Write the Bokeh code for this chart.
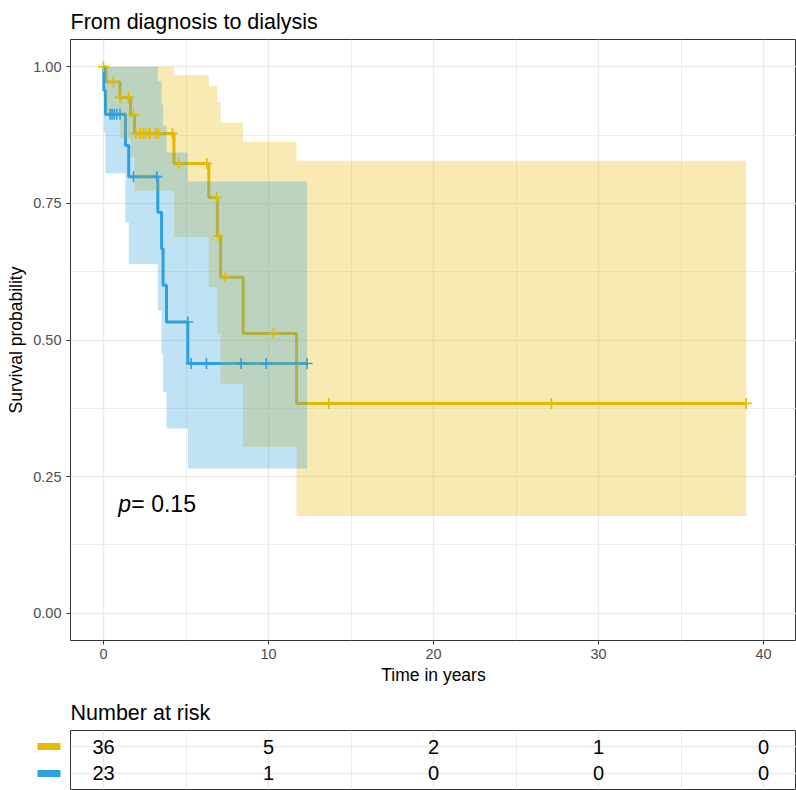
from bokeh.plotting import figure
from bokeh.layouts import column, row
from bokeh.models import FixedTicker, Range1d, PrintfTickFormatter
from bokeh.core.properties import value
from bokeh.embed import file_html
from bokeh.resources import INLINE

FONT = "Liberation Sans"
YEL = "#E7B800"
BLU = "#2E9FDF"

# ---- Data ----
# Group 1 (yellow), n = 36
yel_t = [0, 0.15, 1.0, 1.64, 1.88, 4.27, 6.38, 6.9, 7.1, 8.46, 11.7, 38.95]
yel_s = [1.0, 0.972, 0.944, 0.912, 0.878, 0.823, 0.761, 0.69, 0.615, 0.512, 0.384, 0.384]
yel_lo = [1.0, 0.915, 0.87, 0.835, 0.773, 0.688, 0.597, 0.511, 0.42, 0.304, 0.178, 0.178]
yel_hi = [1.0, 1.0, 1.0, 1.0, 1.0, 0.985, 0.965, 0.935, 0.898, 0.863, 0.828, 0.828]
yel_cens_t = [0, 0.6, 1.01, 1.52, 1.82, 1.96, 2.22, 2.38, 2.56, 2.77, 2.83, 3.17, 3.33,
              4.18, 4.55, 6.26, 6.87, 6.97, 7.37, 10.3, 13.65, 27.15, 38.95]
yel_cens_s = [1.0, 0.972, 0.944, 0.944, 0.912, 0.878, 0.878, 0.878, 0.878, 0.878, 0.878,
              0.878, 0.878, 0.878, 0.823, 0.823, 0.761, 0.69, 0.615, 0.512, 0.384, 0.384, 0.384]

# Group 2 (blue), n = 23
blu_t = [0, 0.02, 0.12, 1.33, 1.53, 3.29, 3.52, 3.61, 3.82, 5.11, 12.34]
blu_s = [1.0, 0.957, 0.913, 0.856, 0.799, 0.734, 0.667, 0.60, 0.533, 0.457, 0.457]
blu_lo = [1.0, 0.88, 0.805, 0.715, 0.639, 0.554, 0.475, 0.405, 0.338, 0.265, 0.265]
blu_hi = [1.0, 1.0, 1.0, 1.0, 1.0, 0.974, 0.93, 0.892, 0.843, 0.79, 0.79]
blu_cens_t = [0.4, 0.52, 0.65, 0.8, 1.0, 1.82, 3.23, 5.11, 5.31, 6.24, 8.34, 9.86, 12.34]
blu_cens_s = [0.913, 0.913, 0.913, 0.913, 0.913, 0.799, 0.799, 0.533, 0.457, 0.457,
              0.457, 0.457, 0.457]

# Axis ticks
x_ticks = [0, 10, 20, 30, 40]
x_minor = [5, 15, 25, 35]
y_ticks = [0.0, 0.25, 0.5, 0.75, 1.0]
y_minor = [0.125, 0.375, 0.625, 0.875]

# Risk table
risk_times = [0, 10, 20, 30, 40]
risk_yel = [36, 5, 2, 1, 0]
risk_blu = [23, 1, 0, 0, 0]
risk_rows = [2, 1]  # yellow on top, blue below

pval_text_p = "p"
pval_text_rest = "= 0.15"
pval_x = 0.9
pval_y = 0.2

# ---- Main survival plot ----
p = figure(width=796, height=690, output_backend="svg", toolbar_location=None,
           x_range=Range1d(-2, 42), y_range=Range1d(-0.05, 1.05),
           min_border_left=70, min_border_right=0, min_border_top=39, min_border_bottom=50,
           title="From diagnosis to dialysis",
           x_axis_label="Time in years", y_axis_label="Survival probability")

p.title.text_font = FONT
p.title.text_font_size = "21.5px"
p.title.text_font_style = "normal"
p.title.text_color = "black"
p.title.standoff = 12

p.outline_line_color = "#333333"
p.outline_line_width = 1
p.background_fill_color = "white"

p.xaxis.ticker = FixedTicker(ticks=x_ticks, minor_ticks=x_minor)
p.yaxis.ticker = FixedTicker(ticks=y_ticks, minor_ticks=y_minor)
p.yaxis.formatter = PrintfTickFormatter(format="%.2f")

for ax in p.axis:
    ax.axis_line_color = None
    ax.major_tick_line_color = "#333333"
    ax.major_tick_out = 4
    ax.major_tick_in = 0
    ax.minor_tick_line_color = None
    ax.major_label_text_color = "#4D4D4D"
    ax.major_label_text_font = FONT
    ax.major_label_text_font_size = "14.5px"
    ax.axis_label_text_font = FONT
    ax.axis_label_text_font_size = "17.5px"
    ax.axis_label_text_font_style = "normal"
    ax.axis_label_text_color = "black"
p.xaxis.major_label_standoff = 4
p.xaxis.axis_label_standoff = 3
p.yaxis.major_label_standoff = 5
p.yaxis.axis_label_standoff = 4

for g in (p.xgrid, p.ygrid):
    g.grid_line_color = "#EBEBEB"
    g.grid_line_width = 1.5
    g.minor_grid_line_color = "#EBEBEB"
    g.minor_grid_line_width = 0.9

# curves
p.step(x=yel_t, y=yel_s, mode="after", line_color=YEL, line_width=3)
p.step(x=blu_t, y=blu_s, mode="after", line_color=BLU, line_width=3)

# confidence bands (drawn over the curves)
p.varea_step(x=yel_t, y1=yel_lo, y2=yel_hi, step_mode="after", fill_color=YEL, fill_alpha=0.3)
p.varea_step(x=blu_t, y1=blu_lo, y2=blu_hi, step_mode="after", fill_color=BLU, fill_alpha=0.3)

# censor marks
p.scatter(x=yel_cens_t, y=yel_cens_s, marker="cross", size=11, line_color=YEL, line_width=1.6)
p.scatter(x=blu_cens_t, y=blu_cens_s, marker="cross", size=11, line_color=BLU, line_width=1.6)

# p-value
p.text(x=[pval_x], y=[pval_y], text=[pval_text_p], text_font=value(FONT),
       text_font_style="italic", text_font_size="23px", text_baseline="middle",
       text_align="left", text_color="black")
p.text(x=[pval_x], y=[pval_y], text=[pval_text_rest], text_font=value(FONT),
       text_font_size="23px", text_baseline="middle", text_align="left",
       text_color="black", x_offset=13)

# ---- Risk table ----
tbl = figure(width=726, height=100, output_backend="svg", toolbar_location=None,
             x_range=p.x_range, y_range=Range1d(0.4, 2.6),
             x_axis_location=None, y_axis_location=None,
             min_border_left=0, min_border_right=0, min_border_top=40, min_border_bottom=1,
             title="Number at risk")
tbl.title.text_font = FONT
tbl.title.text_font_size = "21.5px"
tbl.title.text_font_style = "normal"
tbl.title.text_color = "black"
tbl.title.standoff = 11
tbl.outline_line_color = "#333333"
tbl.outline_line_width = 1
tbl.xgrid.ticker = FixedTicker(ticks=x_ticks, minor_ticks=x_minor)
tbl.ygrid.ticker = FixedTicker(ticks=risk_rows)
for g in (tbl.xgrid, tbl.ygrid):
    g.grid_line_color = "#EBEBEB"
    g.grid_line_width = 1.5
tbl.xgrid.minor_grid_line_color = "#EBEBEB"
tbl.xgrid.minor_grid_line_width = 0.9

tbl.text(x=risk_times + risk_times,
         y=[risk_rows[0]] * len(risk_times) + [risk_rows[1]] * len(risk_times),
         text=[str(v) for v in risk_yel + risk_blu],
         text_font=value(FONT), text_font_size="20px",
         text_align="center", text_baseline="middle", text_color="black")

# legend keys to the left of the table
leg = figure(width=70, height=100, output_backend="svg", toolbar_location=None,
             x_range=Range1d(0, 70), y_range=tbl.y_range,
             x_axis_location=None, y_axis_location=None,
             min_border_left=0, min_border_right=0, min_border_top=40, min_border_bottom=1)
leg.outline_line_color = None
leg.grid.visible = False
leg.rect(x=[48.5, 48.5], y=risk_rows, width=23, height=7, height_units="screen",
         fill_color=[YEL, BLU], line_color=None)

layout = column(p, row(leg, tbl))

open("out.html", "w").write(file_html(layout, INLINE))
